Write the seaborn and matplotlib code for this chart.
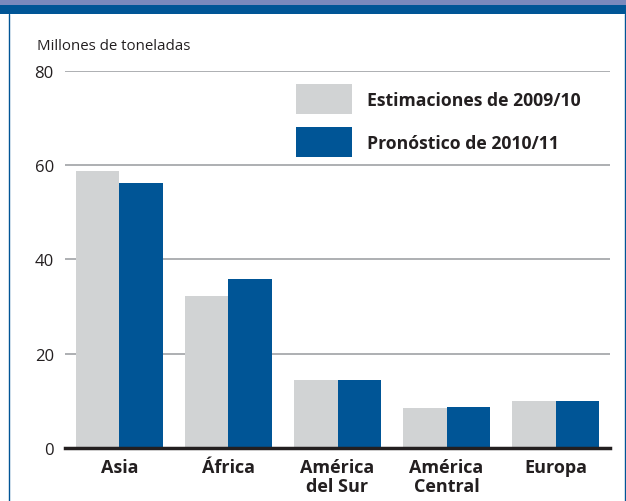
import matplotlib
matplotlib.use("Agg")
import matplotlib.pyplot as plt
import seaborn as sns
import pandas as pd
from matplotlib.lines import Line2D
from matplotlib.patches import Rectangle

# =============================================================================
# Data
# =============================================================================
regions = ["Asia", "África", "América\ndel Sur", "América\nCentral", "Europa"]
est_2009_10 = [58.8, 32.3, 14.4, 8.5, 10.0]
pron_2010_11 = [56.3, 35.9, 14.4, 8.6, 9.9]
series = ["Estimaciones de 2009/10", "Pronóstico de 2010/11"]
yticks = [0, 20, 40, 60, 80]

df = pd.DataFrame({
    "Region": regions * 2,
    "Serie": [series[0]] * len(regions) + [series[1]] * len(regions),
    "Valor": est_2009_10 + pron_2010_11,
})

GRAY = "#D1D3D4"
BLUE = "#005596"

sns.set_style("white")
plt.rcParams["font.family"] = ["Open Sans", "DejaVu Sans"]

fig = plt.figure(figsize=(6.26, 5.02), dpi=100)
ax = fig.add_axes([0.1038, 0.1056, 0.8707, 0.751])

# =============================================================================
# Bars
# =============================================================================
sns.barplot(data=df, x="Region", y="Valor", hue="Serie", order=regions,
            hue_order=series, palette=[GRAY, BLUE], width=0.8,
            saturation=1, linewidth=0, ax=ax)

ax.set_xlim(-0.5, len(regions) - 0.5)
ax.set_ylim(0, 80)
ax.set_yticks(yticks)
ax.set_yticklabels([str(v) for v in yticks], fontsize=12, color="#231F20")
ax.set_xlabel("")
ax.set_ylabel("")
for lbl in ax.get_xticklabels():
    lbl.set_fontweight("bold")
    lbl.set_fontsize(13)
    lbl.set_color("#231F20")
    lbl.set_linespacing(1.08)
ax.tick_params(axis="both", length=0)
ax.tick_params(axis="x", pad=7)
ax.tick_params(axis="y", pad=8)

# gridlines
ax.set_axisbelow(True)
for v in yticks[1:]:
    ax.axhline(v, color="#A7A9AC", lw=1.3, zorder=0)
for s in ["top", "right", "left"]:
    ax.spines[s].set_visible(False)
ax.spines["bottom"].set_color("#231F20")
ax.spines["bottom"].set_linewidth(2.5)
ax.spines["bottom"].set_zorder(5)

# legend
ax.legend_.remove()
handles = [Rectangle((0, 0), 1, 1, facecolor=GRAY, edgecolor="none"),
           Rectangle((0, 0), 1, 1, facecolor=BLUE, edgecolor="none")]
leg = fig.legend(handles, series, loc="upper left",
                 bbox_to_anchor=(296 / 626, 1 - 85 / 502),
                 frameon=False, borderpad=0, borderaxespad=0,
                 prop={"weight": "bold", "size": 12.7},
                 handlelength=3.18, handleheight=2.25,
                 labelspacing=0.75, handletextpad=0.85)
for t in leg.get_texts():
    t.set_color("#231F20")

# axis title
fig.text(37 / 626, 1 - 46 / 502, "Millones de toneladas", fontsize=10.8,
         color="#231F20", va="center", ha="left")

# frame decoration: top band and side borders
fig.add_artist(Rectangle((0, 1 - 6 / 502), 1, 6 / 502, transform=fig.transFigure,
                         facecolor="#7A89BD", edgecolor="none"))
fig.add_artist(Rectangle((0, 1 - 15 / 502), 1, 9 / 502, transform=fig.transFigure,
                         facecolor=BLUE, edgecolor="none"))
fig.add_artist(Line2D([8.5 / 626, 8.5 / 626], [0, 1 - 15 / 502],
                      transform=fig.transFigure, color=BLUE, lw=1))
fig.add_artist(Line2D([625 / 626, 625 / 626], [0, 1 - 15 / 502],
                      transform=fig.transFigure, color=BLUE, lw=1))

fig.savefig("out.png", dpi=100)
